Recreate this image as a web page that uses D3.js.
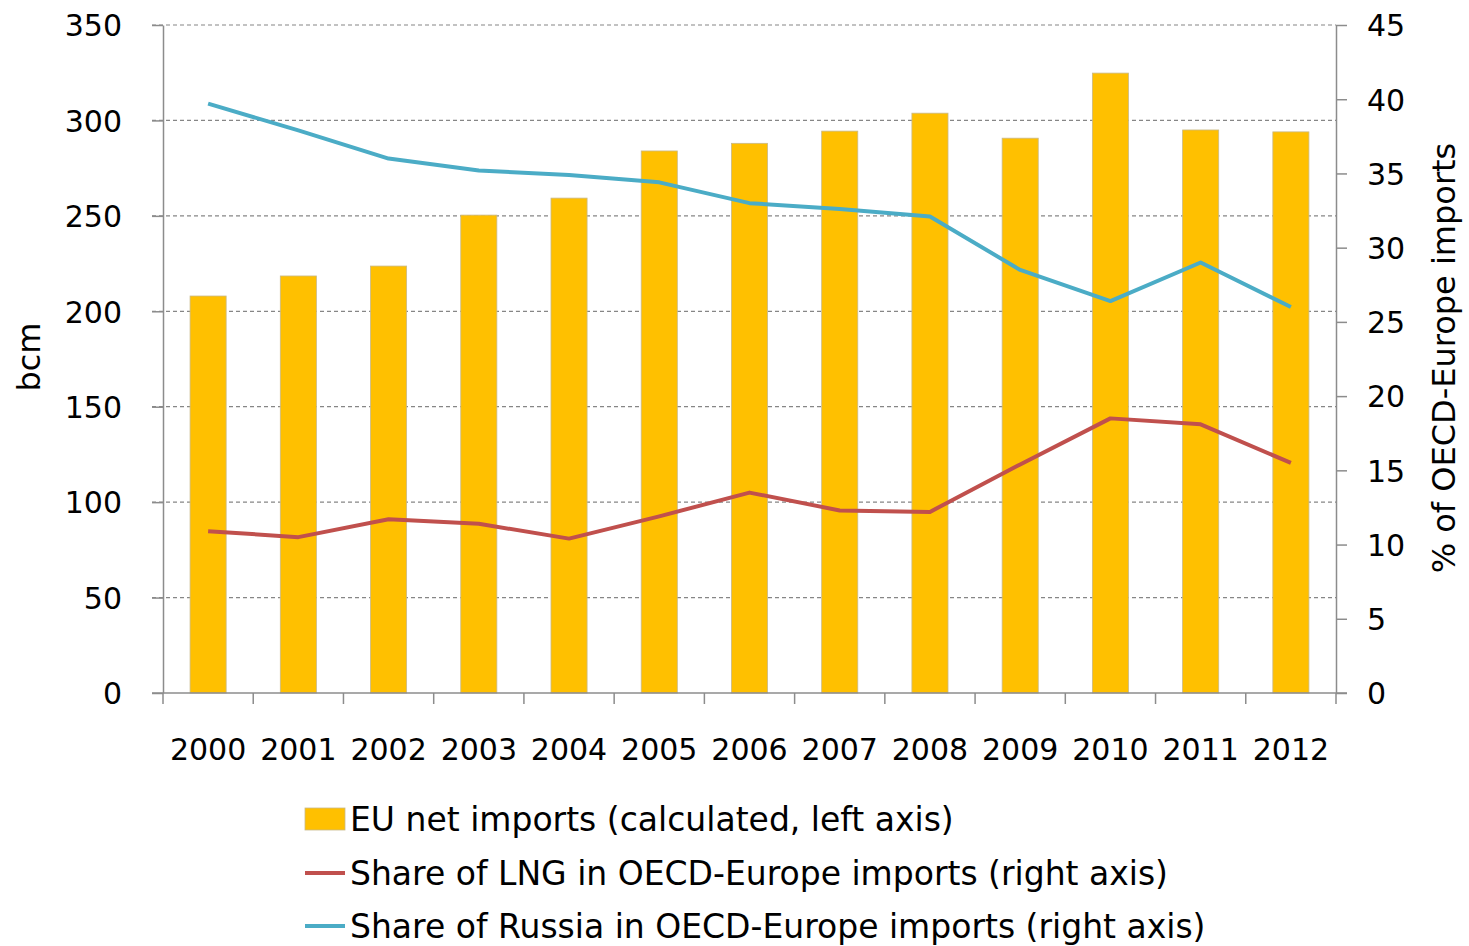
<!DOCTYPE html>
<head>
  <meta charset="utf-8">
  <script src="https://d3js.org/d3.v7.min.js"></script>
  <style>
    body { margin: 0; background: #fff; }
    text { font-family: "DejaVu Sans", sans-serif; fill: #000; }
  </style>
</head>
<body>
  <div id="graph"></div>
  <script>
    // data
    var years = ["2000", "2001", "2002", "2003", "2004", "2005", "2006", "2007", "2008", "2009", "2010", "2011", "2012"];
    var euImports = [208, 218.5, 223.7, 250.4, 259.3, 284, 288, 294.4, 303.8, 290.7, 324.8, 295, 294];
    var lngShare = [10.9, 10.5, 11.7, 11.4, 10.4, 11.9, 13.5, 12.3, 12.2, 15.4, 18.5, 18.1, 15.5];
    var russiaShare = [39.7, 37.9, 36.0, 35.2, 34.9, 34.4, 33.0, 32.6, 32.1, 28.5, 26.4, 29.0, 26.0];
    var leftTicks = [0, 50, 100, 150, 200, 250, 300, 350];
    var rightTicks = [0, 5, 10, 15, 20, 25, 30, 35, 40, 45];

    var width = 1469, height = 946;
    var x0 = 163, x1 = 1336, yTop = 25, yBot = 693;
    var fs = 30;   // tick labels
    var fsT = 32;  // axis titles
    var fsL = 33;  // legend

    var svg = d3.select("#graph").append("svg")
      .attr("width", width)
      .attr("height", height);

    var x = d3.scaleBand().domain(years).range([x0, x1]).paddingInner(0.6).paddingOuter(0.3);
    var yL = d3.scaleLinear().domain([0, 350]).range([yBot, yTop]);
    var yR = d3.scaleLinear().domain([0, 45]).range([yBot, yTop]);

    // gridlines
    svg.append("g").selectAll("line").data(leftTicks.slice(1)).enter()
      .append("line")
      .attr("x1", x0 - 11).attr("x2", x1)
      .attr("y1", d => yL(d)).attr("y2", d => yL(d))
      .attr("stroke", "#868686").attr("stroke-width", 1.2)
      .attr("stroke-dasharray", "4,3");

    // bars
    svg.append("g").selectAll("rect").data(euImports).enter()
      .append("rect")
      .attr("x", (d, i) => x(years[i]))
      .attr("y", d => yL(d))
      .attr("width", x.bandwidth())
      .attr("height", d => yBot - yL(d))
      .attr("fill", "#FFC000")
      .attr("stroke", "#c8b98a").attr("stroke-width", 0.8);

    // left axis
    var leftAxis = d3.axisLeft(yL).tickValues(leftTicks).tickSize(11).tickPadding(30).tickSizeOuter(0);
    var gl = svg.append("g").attr("transform", "translate(" + x0 + ",0)").call(leftAxis);
    gl.select(".domain").attr("stroke", "#8c8c8c").attr("stroke-width", 1.5);
    gl.selectAll(".tick line").attr("stroke", "#8c8c8c").attr("stroke-width", 1.5);
    gl.selectAll("text").style("font-size", fs + "px").attr("dy", "0.36em");

    // right axis
    var rightAxis = d3.axisRight(yR).tickValues(rightTicks).tickSize(11).tickPadding(20).tickSizeOuter(0);
    var gr = svg.append("g").attr("transform", "translate(" + x1 + ",0)").call(rightAxis);
    gr.select(".domain").attr("stroke", "#8c8c8c").attr("stroke-width", 1.5);
    gr.selectAll(".tick line").attr("stroke", "#8c8c8c").attr("stroke-width", 1.5);
    gr.selectAll("text").style("font-size", fs + "px").attr("dy", "0.36em");

    // bottom axis: ticks at band boundaries
    var bounds = years.map(d => x(d) - x.step() * x.paddingInner() / 2);
    bounds.push(x1);
    bounds[0] = x0;
    var gb = svg.append("g");
    gb.append("line").attr("x1", x0 - 11).attr("x2", x1 + 11)
      .attr("y1", yBot).attr("y2", yBot)
      .attr("stroke", "#8c8c8c").attr("stroke-width", 1.5);
    gb.selectAll(".bt").data(bounds).enter().append("line")
      .attr("class", "bt")
      .attr("x1", d => d).attr("x2", d => d)
      .attr("y1", yBot).attr("y2", yBot + 11)
      .attr("stroke", "#8c8c8c").attr("stroke-width", 1.5);
    gb.selectAll("text").data(years).enter().append("text")
      .attr("x", d => x(d) + x.bandwidth() / 2)
      .attr("y", 760)
      .attr("text-anchor", "middle")
      .style("font-size", fs + "px")
      .text(d => d);

    // lines
    var cx = (d, i) => x(years[i]) + x.bandwidth() / 2;
    var line = d3.line().x(cx).y(d => yR(d));
    svg.append("path").datum(lngShare)
      .attr("d", line).attr("fill", "none")
      .attr("stroke", "#C0504D").attr("stroke-width", 4).attr("stroke-linejoin", "round");
    svg.append("path").datum(russiaShare)
      .attr("d", line).attr("fill", "none")
      .attr("stroke", "#4BACC6").attr("stroke-width", 4).attr("stroke-linejoin", "round");

    // axis titles
    svg.append("text")
      .attr("transform", "translate(40,357) rotate(-90)")
      .attr("text-anchor", "middle")
      .style("font-size", fsT + "px")
      .text("bcm");
    svg.append("text")
      .attr("transform", "translate(1455,358) rotate(-90)")
      .attr("text-anchor", "middle")
      .style("font-size", fsT + "px")
      .text("% of OECD-Europe imports");

    // legend
    var legend = svg.append("g");
    legend.append("rect")
      .attr("x", 305).attr("y", 808).attr("width", 40).attr("height", 22)
      .attr("fill", "#FFC000").attr("stroke", "#c8b98a").attr("stroke-width", 0.8);
    legend.append("text").attr("x", 350).attr("y", 831).style("font-size", fsL + "px")
      .text("EU net imports (calculated, left axis)");
    legend.append("line").attr("x1", 305).attr("x2", 345).attr("y1", 873).attr("y2", 873)
      .attr("stroke", "#C0504D").attr("stroke-width", 4);
    legend.append("text").attr("x", 350).attr("y", 885).style("font-size", fsL + "px")
      .text("Share of LNG in OECD-Europe imports (right axis)");
    legend.append("line").attr("x1", 305).attr("x2", 345).attr("y1", 926).attr("y2", 926)
      .attr("stroke", "#4BACC6").attr("stroke-width", 4);
    legend.append("text").attr("x", 350).attr("y", 938).style("font-size", fsL + "px")
      .text("Share of Russia in OECD-Europe imports (right axis)");
  </script>
</body>
